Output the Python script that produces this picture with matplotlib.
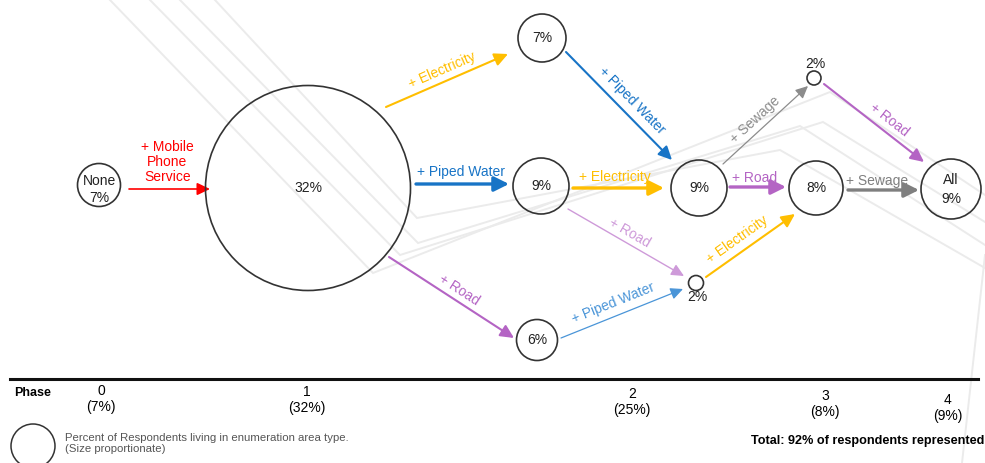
import math
import matplotlib
matplotlib.use("Agg")
import matplotlib.pyplot as plt
from matplotlib.patches import Circle, FancyArrowPatch

plt.rcParams['font.family'] = ['Liberation Sans', 'DejaVu Sans']

# ---- data ----
node_names = ['None', 'P1', 'P2_elec', 'P2_water', 'P2_road', 'P2_water_road',
              'P3_water_elec', 'P3_sewage', 'P3_road', 'All']
node_pct = [7, 32, 7, 9, 6, 2, 9, 2, 8, 9]
node_prefix = ['None', '', '', '', '', '', '', '', '', 'All']

edge_src = [0, 1, 1, 1, 2, 3, 3, 4, 6, 6, 5, 7, 8]
edge_dst = [1, 2, 3, 4, 6, 6, 5, 5, 7, 8, 8, 9, 9]
edge_labels = ['+ Mobile\nPhone\nService', '+ Electricity', '+ Piped Water', '+ Road',
               '+ Piped Water', '+ Electricity', '+ Road', '+ Piped Water',
               '+ Sewage', '+ Road', '+ Electricity', '+ Road', '+ Sewage']

phase_names = ['0', '1', '2', '3', '4']
phase_pct = [7, 32, 25, 8, 9]
total_pct = 92

# ---- layout (pixel space) ----
node_xy = [(99, 185), (308, 188), (542, 38), (541, 186), (537, 340), (696, 283),
           (699, 188), (814, 78), (816, 188), (951, 189)]
node_r = [21.5, 102.5, 24, 28, 20.5, 7.5, 28, 7, 27, 30]
# small nodes carry their label outside the circle
outside_label = {5: (697, 297), 7: (815, 64)}
text_dy = {0: (-4, 13), 9: (-9, 10)}

# arrow start / end offsets relative to the node centres
edge_start = [(30, 4), (78, -81), (108, -4), (81, 69), (24, 14), (32, 2), (27, 23),
              (24, -2), (24, -24), (31, -1), (10, -6), (10, 6), (32, 2)]
edge_end = [(-98, 1), (-34, 16), (-32, -2), (-23, -2), (-27, -28), (-35, 0), (-12, -7),
            (-13, 6), (-6, 8), (-30, -1), (-21, 26), (-27, -27), (-32, 1)]
label_off = [(-2, -27), (-5, -10), (-1.5, -12), (7.5, -7.5), (13, -6), (-3.5, -11),
             (4, -9.5), (-8.5, -10.5), (-10.5, -5), (-3, -9), (-13.5, -5.5),
             (15, -3), (-6.5, -9)]
label_rotates = [False, True, False, True, True, False, True, True, True, False,
                 True, True, False]

RED, GOLD, BLUE, PURPLE, GREY = '#FF0000', '#FFBE00', '#1874C6', '#B464C4', '#7F7F7F'
edge_color = [RED, GOLD, BLUE, PURPLE, BLUE, GOLD, '#CE9AD9', '#4A95D8', '#8C8C8C',
              PURPLE, GOLD, PURPLE, GREY]
edge_lw = [1.2, 1.5, 2.4, 1.5, 1.5, 2.4, 1.0, 0.9, 0.9, 2.4, 1.5, 1.5, 2.4]

phase_x = [101, 307, 632, 825, 948]
phase_y = [391, 392, 394, 396, 400]

bg_lines = [
    [(110, 0), (373, 273), (830, 92), (985, 195)],
    [(150, 0), (400, 255), (823, 122), (985, 222)],
    [(180, 0), (418, 243), (800, 126), (985, 245)],
    [(215, 0), (417, 218), (780, 150), (985, 268)],
    [(985, 255), (962, 463)],
]

fig = plt.figure(figsize=(9.85, 4.63), dpi=100)
ax = fig.add_axes([0, 0, 1, 1])
ax.set_xlim(0, 985)
ax.set_ylim(463, 0)
ax.axis('off')

# faint decorative background
for pl in bg_lines:
    xs, ys = zip(*pl)
    ax.plot(xs, ys, color='#EBEBEB', lw=1.4, zorder=0, solid_joinstyle='miter')

# nodes
for i, (cx, cy) in enumerate(node_xy):
    ax.add_patch(Circle((cx, cy), node_r[i], facecolor='none', edgecolor='#333333',
                        lw=1.2, zorder=3))
    txt = f'{node_pct[i]}%'
    if i in outside_label:
        lx, ly = outside_label[i]
        ax.text(lx, ly, txt, ha='center', va='center', fontsize=10, color='#222222', zorder=4)
    elif node_prefix[i]:
        d1, d2 = text_dy[i]
        ax.text(cx, cy + d1, node_prefix[i], ha='center', va='center', fontsize=10,
                color='#222222', zorder=4)
        ax.text(cx, cy + d2, txt, ha='center', va='center', fontsize=10,
                color='#222222', zorder=4)
    else:
        ax.text(cx, cy, txt, ha='center', va='center', fontsize=10, color='#222222', zorder=4)

# edges
for k in range(len(edge_src)):
    sx, sy = node_xy[edge_src[k]]
    tx, ty = node_xy[edge_dst[k]]
    p0 = (sx + edge_start[k][0], sy + edge_start[k][1])
    p1 = (tx + edge_end[k][0], ty + edge_end[k][1])
    lw = edge_lw[k]
    arr = FancyArrowPatch(p0, p1, arrowstyle=f'-|>,head_length={0.55 + 0.08 * lw},head_width={0.25 + 0.05 * lw}',
                          mutation_scale=12, color=edge_color[k], lw=lw,
                          shrinkA=0, shrinkB=0, zorder=2)
    ax.add_patch(arr)
    mx, my = (p0[0] + p1[0]) / 2, (p0[1] + p1[1]) / 2
    rot = math.degrees(math.atan2(-(p1[1] - p0[1]), p1[0] - p0[0])) if label_rotates[k] else 0
    ax.text(mx + label_off[k][0], my + label_off[k][1], edge_labels[k], color=edge_color[k],
            fontsize=10, ha='center', va='center', rotation=rot, rotation_mode='anchor',
            linespacing=1.05, zorder=4)

# bottom phase strip
ax.plot([10, 978], [379, 379], color='#111111', lw=2.2, zorder=5)
narrow = ['Liberation Sans Narrow', 'Liberation Sans', 'DejaVu Sans']
ax.text(33, 393, 'Phase', fontsize=9, fontweight='bold', ha='center', va='center',
        family=narrow)
for name, pct, x, y in zip(phase_names, phase_pct, phase_x, phase_y):
    ax.text(x, y, name, fontsize=10, ha='center', va='center', family=narrow)
    ax.text(x, y + 16, f'({pct}%)', fontsize=10, ha='center', va='center', family=narrow)

ax.add_patch(Circle((33, 446), 22, facecolor='white', edgecolor='#333333', lw=1.1,
                    zorder=3))
ax.text(65, 443.5, 'Percent of Respondents living in enumeration area type.\n(Size proportionate)',
        fontsize=8.2, color='#555555', ha='left', va='center', family=narrow, linespacing=1.1)
ax.text(984, 441, f'Total: {total_pct}% of respondents represented', fontsize=9.1,
        fontweight='bold', ha='right', va='center', family=narrow)

fig.savefig('out.png', dpi=100)
